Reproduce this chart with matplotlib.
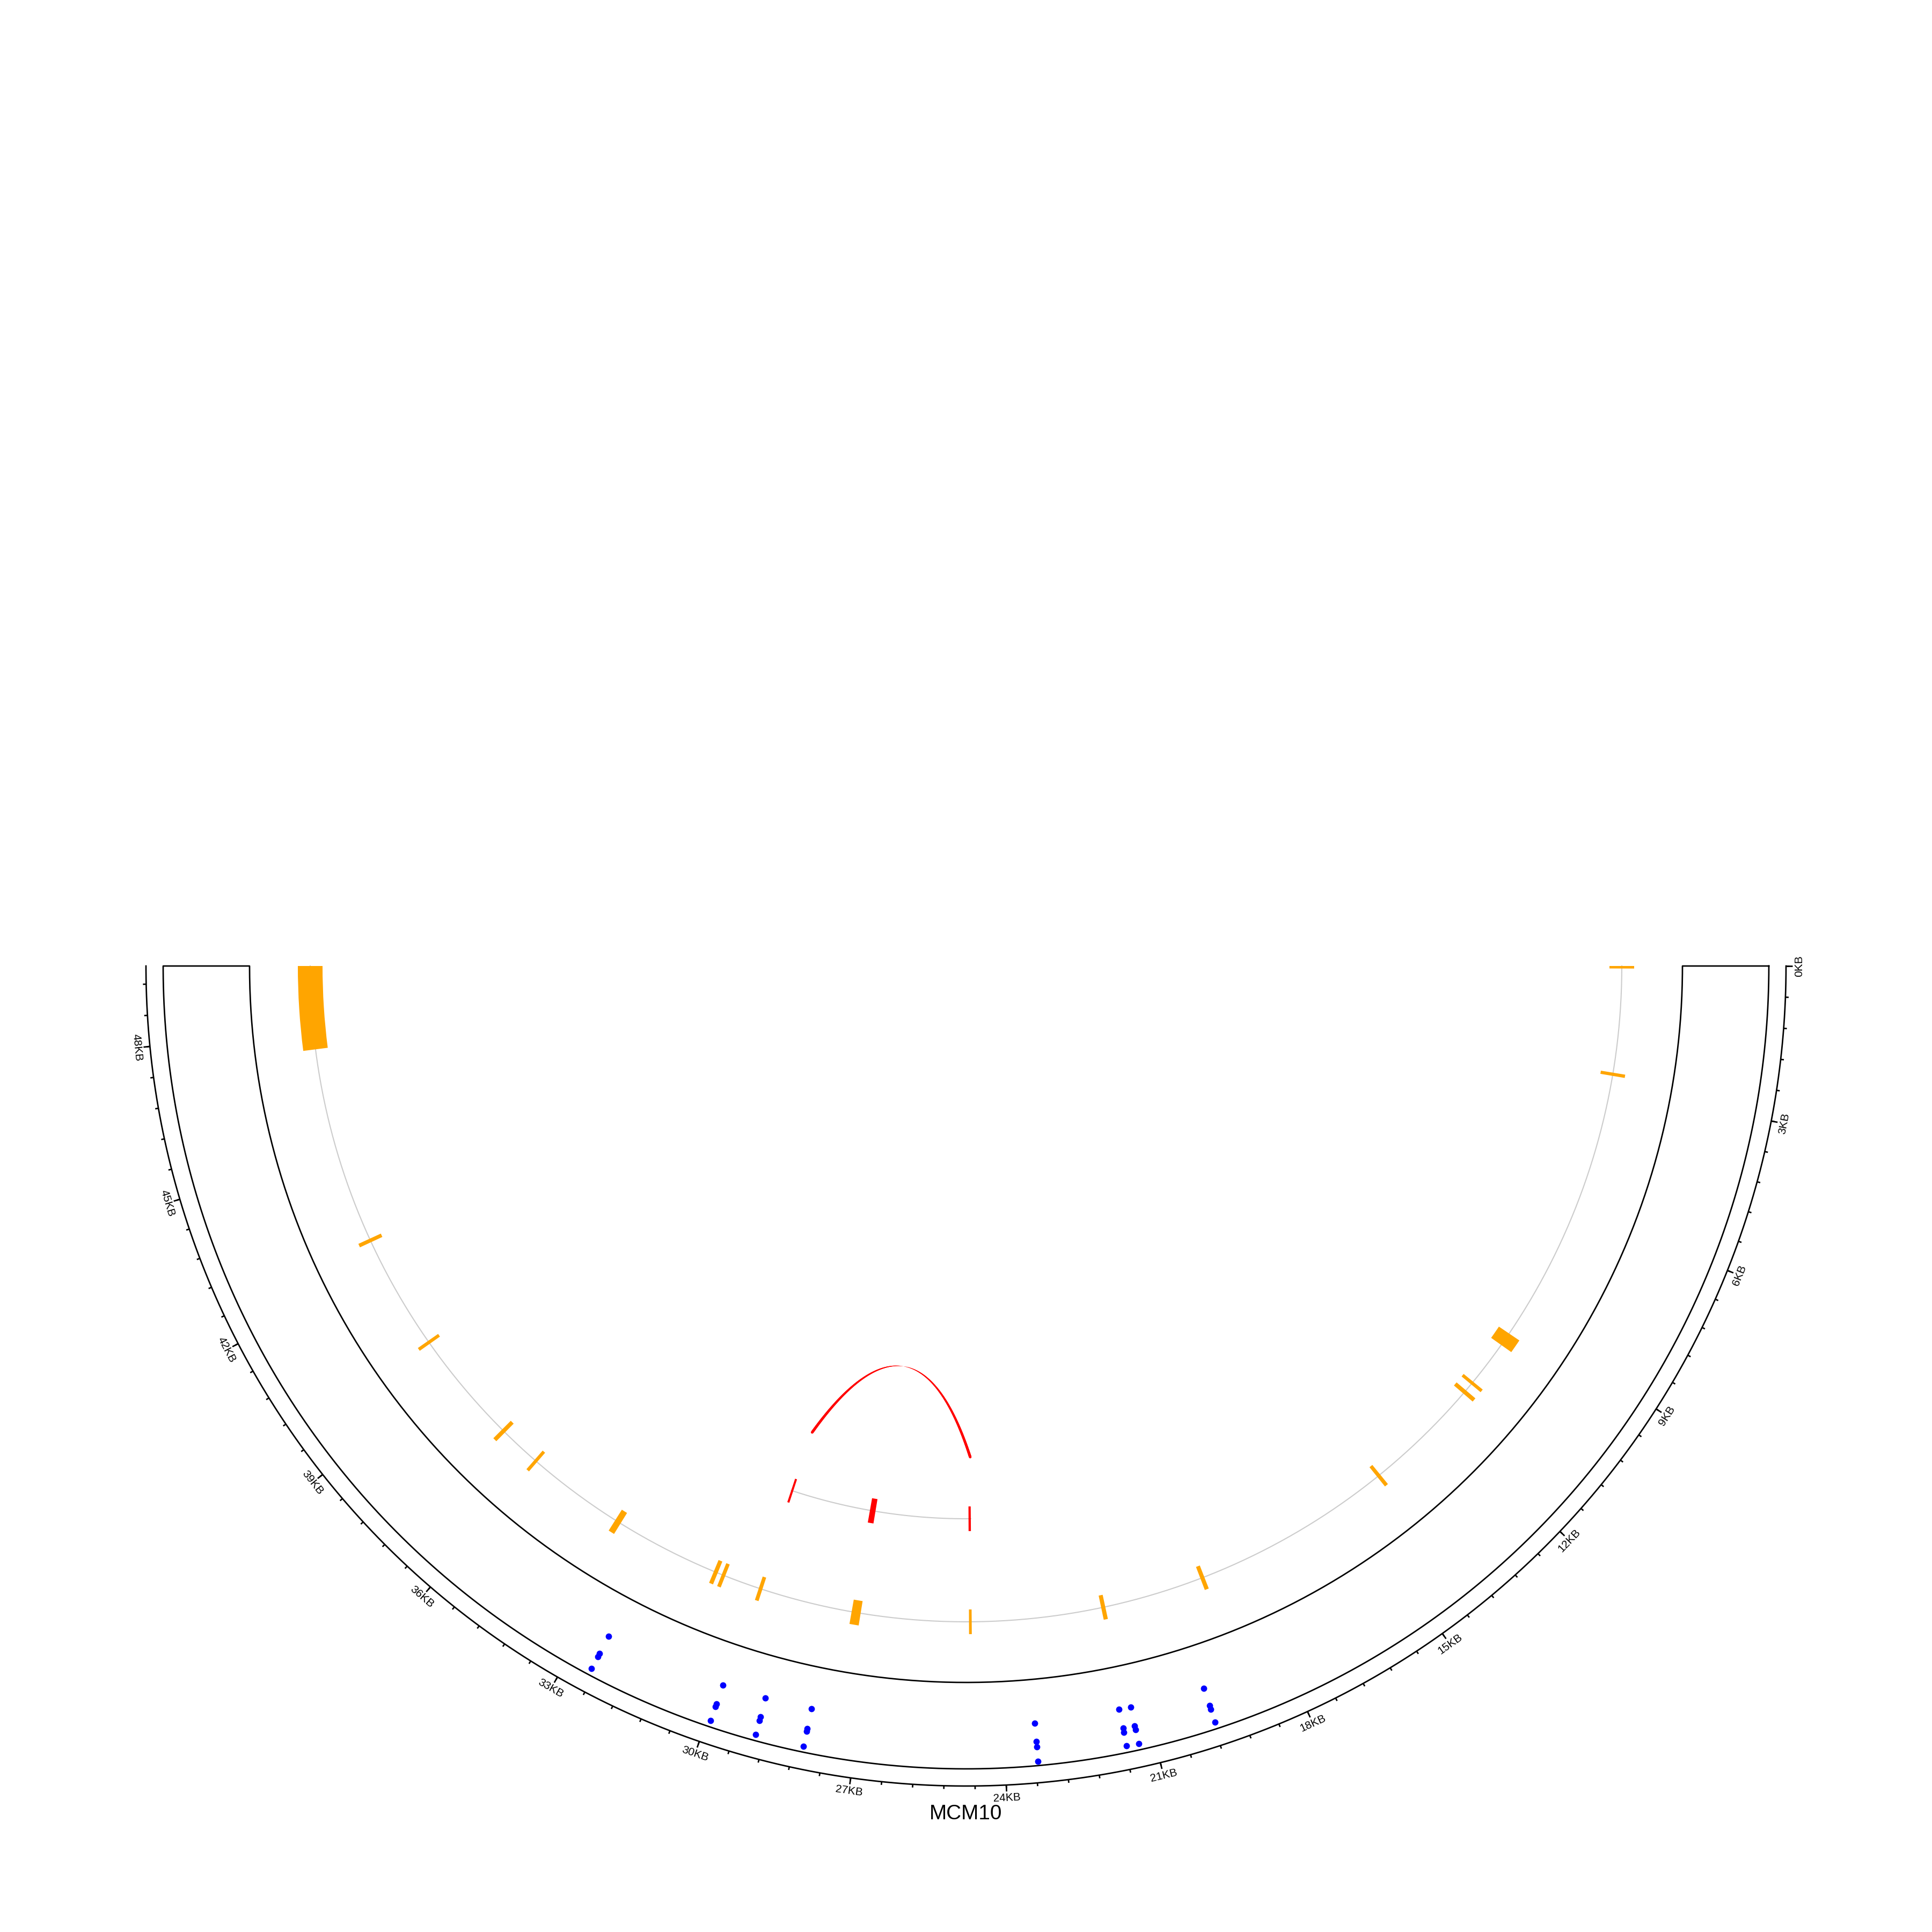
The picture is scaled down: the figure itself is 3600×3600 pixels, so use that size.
import numpy as np
import matplotlib
matplotlib.use("Agg")
import matplotlib.pyplot as plt
from matplotlib.collections import LineCollection

plt.rcParams['font.family'] = ['Liberation Sans', 'DejaVu Sans']

gene_name = "MCM10"
region_len = 49550  # bp covered by the half circle

# canonical transcript (orange), exon start / end in bp
exon_starts = [0, 2577, 9383, 10830, 11100, 13995, 18910, 21400, 24638, 27320,
               29755, 30705, 30900, 33525, 36020, 37070, 39870, 42695, 47540]
exon_ends = [60, 2655, 9718, 10910, 11200, 14085, 19010, 21500, 24703, 27540,
             29845, 30795, 31000, 33675, 36100, 37170, 39950, 42785, 49550]

# alternative transcript (red)
alt_starts = [24638, 27370, 29790]
alt_ends = [24703, 27530, 29850]

# junction arc (red link)
link_from = 29800
link_to = 24640

# per-site values, four samples (blue dots)
site_pos = [19760, 21330, 21570, 23350, 28010, 28990, 29920, 32500]
sample1 = [0.508, 0.494, 0.494, 0.510, 0.490, 0.494, 0.494, 0.499]
sample2 = [0.720, 0.720, 0.714, 0.720, 0.720, 0.720, 0.724, 0.725]
sample3 = [0.764, 0.760, 0.766, 0.780, 0.758, 0.763, 0.758, 0.767]
sample4 = [0.919, 0.928, 0.925, 0.950, 0.934, 0.927, 0.925, 0.925]

major_step = 3000
minor_step = 600

# radii in pixels (figure is 3600 px, centre at 1800)
R_AXIS = 1528
R_TRACK = (1335, 1496)
R_GENE = 1222
R_ALT = 1030
R_LINK = 915
EXON_H = 46


def th(bp):
    return np.deg2rad(90 + np.asarray(bp, dtype=float) / region_len * 180)


fig = plt.figure(figsize=(12, 12), dpi=300)
ax = fig.add_axes([0, 0, 1, 1], projection='polar')
ax.set_theta_zero_location('N')
ax.set_theta_direction(-1)
ax.set_ylim(0, 1800)
ax.axis('off')

# outer axis with ticks
tt = np.linspace(th(0), th(region_len), 600)
ax.plot(tt, np.full_like(tt, R_AXIS), color='black', lw=0.65)
minor = np.arange(0, region_len + 1, minor_step)
major = np.arange(0, region_len + 1, major_step)
ax.vlines(th(minor), R_AXIS, R_AXIS + 6, color='black', lw=0.65)
ax.vlines(th(major), R_AXIS, R_AXIS + 12, color='black', lw=0.65)
for m in major:
    deg = 90 + m / region_len * 180
    ax.text(th(m), R_AXIS + 15, f"{m // 1000}KB", fontsize=5,
            rotation=180 - deg, rotation_mode='anchor', ha='center', va='top')

# scatter track outline
r0, r1 = R_TRACK
outline_t = np.concatenate([tt, tt[::-1], [tt[0]]])
outline_r = np.concatenate([np.full_like(tt, r1), np.full_like(tt, r0), [r1]])
ax.plot(outline_t, outline_r, color='black', lw=0.65)

for vals in (sample1, sample2, sample3, sample4):
    ax.scatter(th(site_pos), r0 + np.asarray(vals) * (r1 - r0), s=8,
               color='blue', linewidths=0, zorder=3)

# gene model
ax.plot(tt, np.full_like(tt, R_GENE), color='#cccccc', lw=0.5, zorder=1)
for s, e in zip(exon_starts, exon_ends):
    ax.bar(th(s), EXON_H, width=th(e) - th(s), bottom=R_GENE - EXON_H / 2,
           align='edge', color='orange', linewidth=0, zorder=2)

ta = np.linspace(th(min(alt_starts)), th(max(alt_ends)), 200)
ax.plot(ta, np.full_like(ta, R_ALT), color='#cccccc', lw=0.5, zorder=1)
for s, e in zip(alt_starts, alt_ends):
    ax.bar(th(s), EXON_H, width=th(e) - th(s), bottom=R_ALT - EXON_H / 2,
           align='edge', color='red', linewidth=0, zorder=2)

# junction arc: quadratic bezier, thinning towards the apex
a0, a1 = th(link_from), th(link_to)
p0 = np.array([R_LINK * np.sin(a0), R_LINK * np.cos(a0)])
p2 = np.array([R_LINK * np.sin(a1), R_LINK * np.cos(a1)])
amid = (a0 + a1) / 2
chord_r = R_LINK * np.cos(abs(a0 - a1) / 2)
c = (2 * 755 - chord_r) * np.array([np.sin(amid), np.cos(amid)])
t = np.linspace(0, 1, 400)[:, None]
pts = (1 - t) ** 2 * p0 + 2 * (1 - t) * t * c + t ** 2 * p2
pt_t = np.arctan2(pts[:, 0], pts[:, 1])
pt_r = np.hypot(pts[:, 0], pts[:, 1])
segs = [[(pt_t[i], pt_r[i]), (pt_t[i + 1], pt_r[i + 1])] for i in range(len(t) - 1)]
tm = (t[:-1, 0] + t[1:, 0]) / 2
widths = 1.2 * np.abs(2 * tm - 1) ** 0.7
ax.add_collection(LineCollection(segs, colors='red', linewidths=widths,
                                 capstyle='round'))

fig.text(0.5, 1 - 3380 / 3600, gene_name, ha='center', va='center', fontsize=9.3)

fig.savefig("out.png", dpi=300, facecolor='white')
